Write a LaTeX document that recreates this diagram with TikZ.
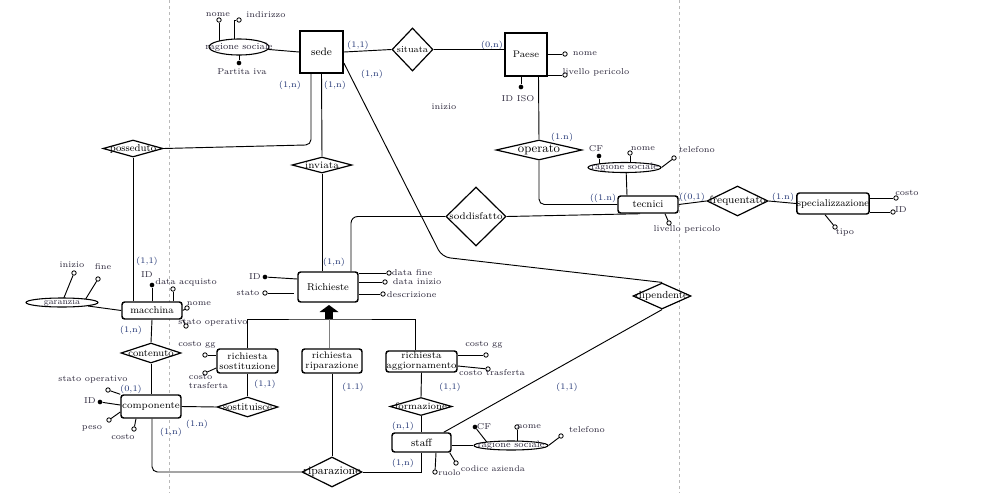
\documentclass[tikz,border=0pt]{standalone}
\usetikzlibrary{shapes.geometric,calc,backgrounds}
\definecolor{txtc}{RGB}{45,40,60}
\definecolor{cardc}{RGB}{30,50,115}
\newcommand{\xsmallf}{\fontsize{6.4}{7}\selectfont}
\newcommand{\xentf}{\fontsize{7.5}{8.5}\selectfont}
\newcommand{\xtwof}{\fontsize{7.2}{7.6}\selectfont}
\newcommand{\xellf}{\fontsize{6.9}{7.5}\selectfont}
\newcommand{\xrf}[1]{\fontsize{#1}{#1}\selectfont}
\begin{document}
\begin{tikzpicture}[x=0.75pt,y=-0.75pt,
 sqbox/.style={draw,line width=1.3pt,inner sep=0pt,fill=white,font=\xentf},
 ent/.style={draw,line width=1.1pt,rounded corners=2pt,inner sep=0pt,fill=white,font=\xentf,align=center},
 ent2/.style={ent,font=\xtwof},
 rel/.style={diamond,draw,line width=0.9pt,inner sep=0pt,fill=white},
 ell/.style={ellipse,draw,line width=0.8pt,inner sep=0pt,fill=white},
 ln/.style={line width=0.7pt},
 attxt/.style={font=\xsmallf,text=txtc,inner sep=0.5pt},
 cd/.style={font=\xsmallf,text=cardc,inner sep=0.5pt},
 oa/.style={circle,draw,line width=0.6pt,fill=white,inner sep=0pt,minimum size=3.3pt},
 ka/.style={circle,fill=black,inner sep=0pt,minimum size=3.5pt},
 guide/.style={gray!55,line width=0.5pt,dash pattern=on 2.5pt off 2pt},
]
\useasboundingbox (0,0) rectangle (999,493);

% ---------- entities ----------
\node[sqbox,minimum width=32.25pt,minimum height=31.5pt,font=\xrf{8}] (sede) at (321.5,52) {sede};
\node[sqbox,minimum width=31.5pt,minimum height=32.25pt,font=\xrf{7.1}] (paese) at (526,54.5) {Paese};
\node[ent,minimum width=45pt,minimum height=12.75pt,font=\xrf{7.7}] (tecnici) at (648,204.5) {tecnici};
\node[ent,minimum width=54pt,minimum height=15.75pt] (spec) at (833,203.5) {specializzazione};
\node[ent,minimum width=45pt,minimum height=22.5pt] (rich) at (328,287) {Richieste};
\node[ent,minimum width=45pt,minimum height=12.75pt] (macc) at (152,310.5) {macchina};
\node[ent,minimum width=45pt,minimum height=17.25pt,font=\xrf{7.3}] (comp) at (151,406.5) {componente};
\node[ent2,minimum width=45.75pt,minimum height=18pt] (rsost) at (247.5,361) {richiesta\\sostituzione};
\node[ent2,minimum width=45pt,minimum height=18pt] (rrip) at (332,361) {richiesta\\riparazione};
\node[ent2,minimum width=53.25pt,minimum height=15.75pt] (ragg) at (421.5,361.5) {richiesta\\aggiornamento};
\node[ent,minimum width=44.25pt,minimum height=14.25pt,font=\xrf{7.9}] (staff) at (421.5,442.5) {staff};

% ---------- relationships ----------
\node[rel,minimum width=30.75pt,minimum height=32.25pt,label={[font=\xrf{6.8}]center:situata}] (situata) at (412.5,49.5) {};
\node[rel,minimum width=64.5pt,minimum height=15pt,label={[font=\xrf{9.3}]center:operato}] (operato) at (539,150) {};
\node[rel,minimum width=45pt,minimum height=44.25pt,label={[font=\xrf{7.3}]center:soddisfatto}] (sodd) at (476,216.5) {};
\node[rel,minimum width=45.75pt,minimum height=22.5pt,label={[font=\xrf{8}]center:frequentato}] (freq) at (737.5,201) {};
\node[rel,minimum width=45pt,minimum height=12.75pt,label={[font=\xrf{7.6}]center:posseduto}] (poss) at (133,148.5) {};
\node[rel,minimum width=45pt,minimum height=12pt,label={[font=\xrf{7.4}]center:inviata}] (inviata) at (322,165) {};
\node[rel,minimum width=43.5pt,minimum height=19.5pt,label={[font=\xrf{7.7}]center:dipendente}] (dip) at (662,296) {};
\node[rel,minimum width=45pt,minimum height=15pt,label={[font=\xrf{7.5}]center:contenuto}] (cont) at (151,353) {};
\node[rel,minimum width=45.75pt,minimum height=15pt,label={[font=\xrf{7.8}]center:sostituisce}] (sost) at (247.5,407) {};
\node[rel,minimum width=46.5pt,minimum height=13.5pt,label={[font=\xrf{7.2}]center:formazione}] (form) at (421,406.5) {};
\node[rel,minimum width=45pt,minimum height=22.5pt,label={[font=\xrf{8.6}]center:riparazione}] (ripa) at (332,472) {};

% ---------- composite attributes ----------
\node[ell,minimum width=45pt,minimum height=12pt,label={[font=\xellf,text=txtc]center:ragione sociale}] (rs1) at (239,47) {};
\node[ell,minimum width=54.75pt,minimum height=7.5pt,label={[font=\xellf,text=txtc]center:ragione sociale}] (rs2) at (624.5,167.5) {};
\node[ell,minimum width=55.5pt,minimum height=6.75pt,label={[font=\xellf,text=txtc]center:ragione sociale}] (rs3) at (511,445.5) {};
\node[ell,minimum width=54pt,minimum height=6.75pt,label={[font=\xrf{6.5},text=txtc]center:garanzia}] (gar) at (62,302.5) {};

% ---------- attribute markers ----------
\node[oa] (n1) at (219,20) {};
\node[oa] (i1) at (239,20) {};
\node[ka] (p1) at (239,63) {};
\node[oa] (pn) at (565,54) {};
\node[oa] (plp) at (565,75) {};
\node[ka] (pid) at (521,87) {};
\node[ka] (cf2) at (599,156) {};
\node[oa] (nm2) at (630,153) {};
\node[oa] (tel2) at (674,158) {};
\node[oa] (lp2) at (669,223) {};
\node[oa] (sc) at (896,198) {};
\node[oa] (sid) at (893,212) {};
\node[oa] (stipo) at (835,227) {};
\node[ka] (rid) at (265,277) {};
\node[oa] (rst) at (265,293) {};
\node[oa] (rdf) at (389,273) {};
\node[oa] (rdi) at (385,282) {};
\node[oa] (rde) at (383,294) {};
\node[ka] (mid) at (152,285) {};
\node[oa] (mda) at (173,289) {};
\node[oa] (mnm) at (187,308) {};
\node[oa] (mso) at (186,326) {};
\node[oa] (gin) at (74,273) {};
\node[oa] (gfi) at (98,279) {};
\node[oa] (cso) at (108,390) {};
\node[ka] (cid) at (100,402) {};
\node[oa] (cpe) at (109,420) {};
\node[oa] (cco) at (134,429) {};
\node[oa] (sgg) at (205,355) {};
\node[oa] (str) at (205,373) {};
\node[oa] (agg) at (486,355) {};
\node[oa] (atr) at (488,369) {};
\node[oa] (sru) at (435,472) {};
\node[oa] (sca) at (456,463) {};
\node[ka] (scf) at (475,427) {};
\node[oa] (snm) at (517,427) {};
\node[oa] (stel) at (561,436) {};

% ---------- attribute texts ----------
\node[attxt] (t1) at (218,15) {nome};
\node[attxt] (t2) at (266,15) {indirizzo};
\node[attxt] (t3) at (242,72) {Partita iva};
\node[attxt] (t4) at (585,54) {nome};
\node[attxt] (t5) at (596,72) {livello pericolo};
\node[attxt] (t6) at (518,99) {ID ISO};
\node[attxt] (t7) at (596,149) {CF};
\node[attxt] (t8) at (643,149) {nome};
\node[attxt] (t9) at (697,150) {telefono};
\node[attxt] (t10) at (687,229) {livello pericolo};
\node[attxt] (t11) at (907,193) {costo};
\node[attxt] (t12) at (901,210) {ID};
\node[attxt] (t13) at (845,233) {tipo};
\node[attxt] (t14) at (255,277) {ID};
\node[attxt] (t15) at (248,293) {stato};
\node[attxt,anchor=west] (t16) at (391,273) {data fine};
\node[attxt,anchor=west] (t17) at (392,282) {data inizio};
\node[attxt,anchor=west] (t18) at (386,294.5) {descrizione};
\node[attxt] (t19) at (147,275) {ID};
\node[attxt] (t20) at (186,282) {data acquisto};
\node[attxt] (t21) at (199,304) {nome};
\node[attxt] (t22) at (213,323) {stato operativo};
\node[attxt] (t23) at (72,265) {inizio};
\node[attxt] (t24) at (103,267) {fine};
\node[attxt] (t25) at (93,380) {stato operativo};
\node[attxt] (t26) at (90,401) {ID};
\node[attxt] (t27) at (92,428) {peso};
\node[attxt] (t28) at (123,437) {costo};
\node[attxt] (t29) at (197,345) {costo gg};
\node[attxt,anchor=west,align=left,font=\fontsize{6.4}{6.9}\selectfont] (t30) at (188,381.5) {costo\\trasferta};
\node[attxt] (t31) at (484,345) {costo gg};
\node[attxt] (t32) at (492,373) {costo trasferta};
\node[attxt] (t33) at (484,427) {CF};
\node[attxt] (t34) at (529,427) {nome};
\node[attxt] (t35) at (587,430) {telefono};
\node[attxt,anchor=west,font=\xrf{6.1}] (t36) at (437.5,472.5) {ruolo};
\node[attxt,anchor=west,font=\xrf{6.2}] (t37) at (460,468.5) {codice azienda};
\node[attxt] (t38) at (444,107) {inizio};

% ---------- cardinalities ----------
\node[cd] (c1) at (358,45) {(1,1)};
\node[cd] (c2) at (492,45) {(0,n)};
\node[cd] (c3) at (372,74) {(1,n)};
\node[cd] (c4) at (290,85) {(1,n)};
\node[cd] (c5) at (335,85) {(1,n)};
\node[cd] (c6) at (562,137) {(1.n)};
\node[cd] (c7) at (603,198) {((1.n)};
\node[cd] (c8) at (692,197) {((0,1)};
\node[cd] (c9) at (783,197) {(1.n)};
\node[cd] (c10) at (334,262) {(1,n)};
\node[cd] (c11) at (147,261) {(1,1)};
\node[cd] (c12) at (131,330) {(1,n)};
\node[cd] (c13) at (131,389) {(0,1)};
\node[cd] (c14) at (265,384) {(1,1)};
\node[cd] (c15) at (197,424) {(1.n)};
\node[cd] (c16) at (171,432) {(1,n)};
\node[cd] (c17) at (353,387) {(1.1)};
\node[cd] (c18) at (450,387) {(1,1)};
\node[cd] (c19) at (403,426) {(n,1)};
\node[cd] (c20) at (403,463) {(1,n)};
\node[cd] (c21) at (567,387) {(1,1)};

% ---------- inheritance arrow ----------
\coordinate (isa) at (329,319);
\fill ($(isa)+(-4,0)$) rectangle ($(isa)+(4,-8)$);
\fill ($(isa)+(-9.5,-7)$) -- ($(isa)+(0,-14)$) -- ($(isa)+(9.5,-7)$) -- cycle;

% ---------- connectors (behind nodes) ----------
\begin{scope}[on background layer]
\fill[white] (0,0) rectangle (999,493);
\coordinate (g1a) at (169,0); \coordinate (g1b) at (169,493);
\coordinate (g2a) at (679,0); \coordinate (g2b) at (679,493);
\draw[guide] (g1a) -- (g1b);
\draw[guide] (g2a) -- (g2b);

% sede
\draw[ln] (rs1) -- (sede.west);
\draw[ln] (n1) -- (n1 |- rs1.center);
\draw[ln] ($(rs1.center)+(-5,0)$) |- (i1);
\draw[ln] (p1) -- (rs1.center);
\draw[ln] (sede.east) -- (situata.west);
\draw[ln] (situata.east) -- (situata.east -| paese.west);
\draw[ln,rounded corners=4pt] ($(sede.south)+(-10.5,0)$) -- ($(sede.south)+(-10.5,71)$) -- (poss.east);
\draw[ln] (sede.south) -- (inviata.north);
\draw[ln] (inviata.south) -- (inviata.south |- rich.north);
\coordinate (bend) at (442,257);
\draw[ln,rounded corners=6pt] ($(sede.east)+(0,11)$) -- (bend) -- (dip.north);

% Paese
\draw[ln] (pn) -- (pn -| paese.east);
\draw[ln] (plp) -- (plp -| paese.east);
\draw[ln] (pid) -- (pid |- paese.south);
\draw[ln] ($(paese.south)+(12.5,0)$) -- (operato.north);

% tecnici
\draw[ln,rounded corners=4pt] (operato.south) |- (tecnici.west);
\draw[ln] (sodd.east) -- ($(tecnici.south)+(-8,0)$);
\draw[ln,rounded corners=5pt] (sodd.west) -| ($(rich.north)+(23,0)$);
\draw[ln] ($(rs2.center)+(1.5,0)$) -- ($(tecnici.north)+(-21,0)$);
\draw[ln] (cf2) -- (cf2 |- rs2.center);
\draw[ln] (nm2) -- (nm2 |- rs2.center);
\draw[ln] (tel2) -- (rs2.east);
\draw[ln] ($(tecnici.south)+(17,0)$) -- (lp2);
\draw[ln] (tecnici.east) -- (freq.west);
\draw[ln] (freq.east) -- (spec.west);
\draw[ln] (sc) -- (sc -| spec.east);
\draw[ln] (sid) -- (sid -| spec.east);
\draw[ln] ($(spec.south)+(-8,0)$) -- (stipo);

% Richieste
\draw[ln] (rid) -- ($(rich.west)+(0,-8)$);
\draw[ln,shorten >=2.25pt] (rst) -- (rst -| rich.west);
\draw[ln] (rdf) -- (rdf -| rich.east);
\draw[ln] (rdi) -- (rdi -| rich.east);
\draw[ln] (rde) -- (rde -| rich.east);
\draw[ln] (rsost.north) |- (isa) -| ($(ragg.north)+(-6.5,0)$);
\draw[ln,gray] (isa) -- (isa |- rrip.north);

% macchina
\draw[ln] (poss.south) -- (poss.south |- macc.north);
\draw[ln] (mid) -- (mid |- macc.north);
\draw[ln] (mda) -- (mda |- macc.north);
\draw[ln] (mnm) -- (macc.east);
\draw[ln] (mso) -- (macc.south east);
\draw[ln] (gar) -- (macc.west);
\draw[ln] (gin) -- (gar.center);
\draw[ln] (gfi) -- ($(gar.center)+(21.5,0)$);
\draw[ln] (macc.south) -- (cont.north);
\draw[ln] (cont.south) -- (comp.north);

% componente
\draw[ln] (cso) -- (comp.north west);
\draw[ln] (cid) -- ($(comp.west)+(0,-1.5)$);
\draw[ln] (cpe) -- ($(comp.west)+(0,5.5)$);
\draw[ln] (cco) -- ($(comp.south)+(-15,0)$);
\draw[ln] (sost.west) -- (comp.east);
\draw[ln] (rsost.south) -- (sost.north);
\draw[ln] (sgg) -- (sgg -| rsost.west);
\draw[ln] (str) -- ($(rsost.west)+(0,7)$);
\draw[ln,rounded corners=4pt] ($(comp.south)+(1,0)$) |- (ripa.west);

% riparazione / staff
\draw[ln] (rrip.south) -- (ripa.north);
\draw[ln] (ripa.east) -| (staff.south);
\draw[ln] (ragg.south) -- (form.north);
\draw[ln] (form.south) -- (form.south |- staff.north);
\draw[ln] (agg) -- (agg -| ragg.east);
\draw[ln] (atr) -- ($(ragg.east)+(0,4.5)$);
\draw[ln] (dip.south) -- ($(staff.north east)+(-8,0)$);
\draw[ln] ($(staff.south)+(14.5,0)$) -- (sru);
\draw[ln] ($(staff.south east)+(-2,0)$) -- (sca);
\draw[ln] (rs3.west -| staff.east) -- (rs3.west);
\draw[ln] (scf) -- ($(rs3.center)+(-21.5,0)$);
\draw[ln] (snm) -- (snm |- rs3.center);
\draw[ln] (stel) -- (rs3.east);
\end{scope}
\end{tikzpicture}
\end{document}
